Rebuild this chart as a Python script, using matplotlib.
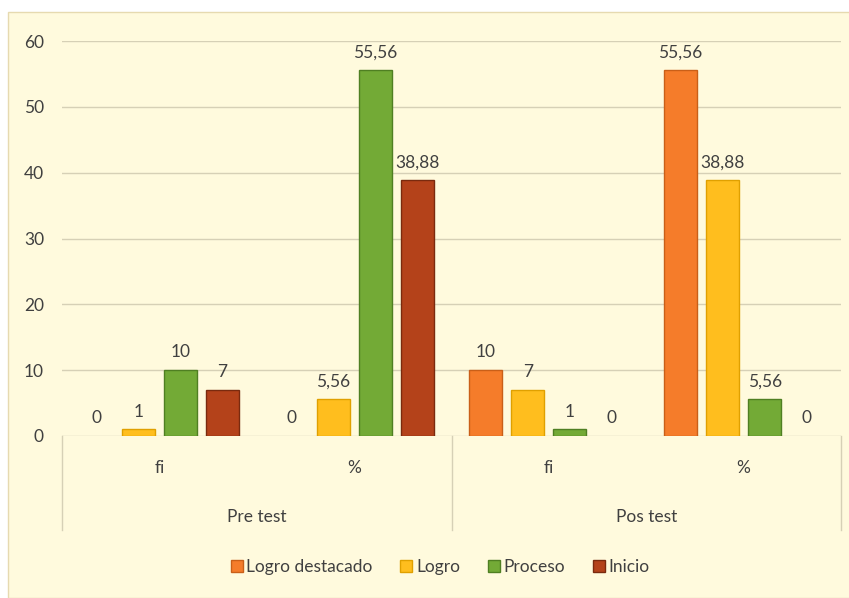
import numpy as np
import matplotlib
matplotlib.use("Agg")
import matplotlib.pyplot as plt
from matplotlib.patches import Rectangle, Patch

plt.rcParams["font.family"] = ["Lato", "DejaVu Sans"]
INK = "#404040"
GRIDC = "#D6D0B6"
CREAM = "#FFFADD"

sub_labels = ["fi", "%", "fi", "%"]
groups = ["Pre test", "Pos test"]
series = ["Logro destacado", "Logro", "Proceso", "Inicio"]
logro_destacado = [0, 0, 10, 55.56]
logro = [1, 5.56, 7, 38.88]
proceso = [10, 55.56, 1, 5.56]
inicio = [7, 38.88, 0, 0]
label_txt = [["0", "0", "10", "55,56"],
             ["1", "5,56", "7", "38,88"],
             ["10", "55,56", "1", "5,56"],
             ["7", "38,88", "0", "0"]]
colors = ["#F57C2A", "#FFBE1E", "#73AA36", "#B4421A"]
edges = ["#C95F18", "#E0A000", "#4F7F22", "#7A2A0E"]

fig = plt.figure(figsize=(8.49, 5.98), dpi=100)
fig.patch.set_facecolor("white")
fig.patches.append(Rectangle((8 / 849, 0), 1.0, (598 - 12) / 598, transform=fig.transFigure,
                             facecolor=CREAM, edgecolor="#E6DAB0", lw=1.0, zorder=-10))

ax = fig.add_axes([62 / 849, (598 - 436) / 598, (841 - 62) / 849, 395 / 598])
ax.set_facecolor("none")
x = np.arange(4)
step, width = 0.216, 0.17
vals = [logro_destacado, logro, proceso, inicio]
for i, (v, c, e) in enumerate(zip(vals, colors, edges)):
    xs = x + (i - 1.5) * step
    lws = [1.0 if vi > 0 else 0 for vi in v]
    ax.bar(xs, v, width=width, color=c, edgecolor=e, linewidth=lws, zorder=3, label=series[i])
    for xi, vi, t in zip(xs, v, label_txt[i]):
        ax.annotate(t, (xi, vi), xytext=(0, 7), textcoords="offset points",
                    ha="center", va="bottom", fontsize=12.5, color=INK)

ax.set_xlim(-0.5, 3.5)
ax.set_ylim(0, 60)
ax.set_yticks(np.arange(0, 61, 10))
ax.yaxis.grid(True, color=GRIDC, lw=1.0, zorder=0)
ax.set_axisbelow(True)
for s in ax.spines.values():
    s.set_visible(False)
ax.tick_params(axis="y", length=0, pad=13, labelsize=12.5, labelcolor=INK)
ax.set_xticks([])

# multi-level category axis
tr = ax.get_xaxis_transform()
for xv in [-0.5, 1.5, 3.5]:
    ax.plot([xv, xv], [0, -0.238], transform=tr, color=GRIDC, lw=1.0, clip_on=False)
for xi, s in zip(x, sub_labels):
    ax.text(xi, -0.081, s, transform=tr, ha="center", va="center", fontsize=12.5, color=INK)
for gi, g in enumerate(groups):
    ax.text(0.5 + 2 * gi, -0.205, g, transform=tr, ha="center", va="center",
            fontsize=12.5, color=INK)

handles = [Patch(facecolor=c, edgecolor=e) for c, e in zip(colors, edges)]
fig.legend(handles, series, loc="center", bbox_to_anchor=(440 / 849, (598 - 567) / 598),
           ncol=4, frameon=False, fontsize=12.5, labelcolor=INK, handlelength=0.7,
           handleheight=0.7, handletextpad=0.2, columnspacing=1.6)

fig.savefig("out.png", dpi=100, facecolor="white")
